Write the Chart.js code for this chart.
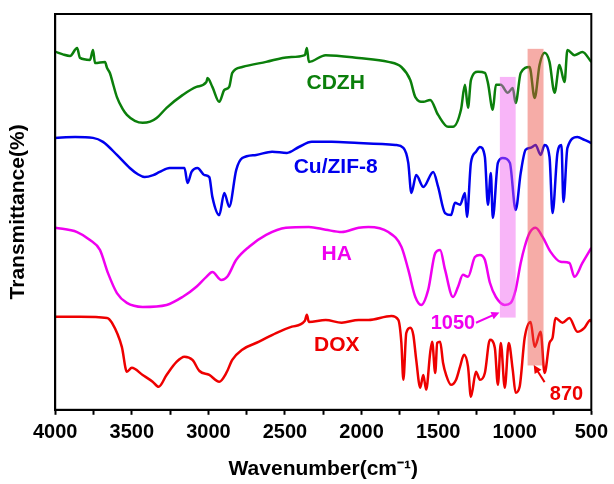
<!DOCTYPE html>
<html>
<head>
<meta charset="utf-8">
<script src="https://cdn.jsdelivr.net/npm/chart.js@4.4.1/dist/chart.umd.min.js"></script>
<style>
  html, body { margin: 0; padding: 0; background: #fff; }
  #wrap { width: 614px; height: 484px; position: relative; }
</style>
</head>
<body>
<div id="wrap"><canvas id="grafico"></canvas></div>
<script>
// spettri FTIR: [numero d'onda, trasmittanza (u.a.)]
const cdzh = [[4000,90.5],[3950,89.8],[3903,89.4],[3857,91.4],[3838,88.9],[3773,88.4],[3753,90.9],[3740,87.6],[3675,87.9],[3662,86.4],
  [3643,85.1],[3620,82.0],[3597,79.0],[3560,76.0],[3532,74.5],[3480,73.0],[3429,72.5],[3380,72.8],[3338,73.7],[3273,76.3],[3169,79.5],[3078,81.6],[3013,82.8],[3006,83.8],
  [2974,81.6],[2929,77.8],[2896,80.8],[2864,81.6],[2844,85.1],[2779,86.6],[2623,87.9],[2474,89.1],[2370,89.6],[2357,91.4],
  [2344,87.9],[2234,89.6],[2019,88.9],[1825,87.9],[1740,86.6],[1682,83.3],[1649,79.0],[1597,77.8],[1552,78.3],[1500,74.5],
  [1435,71.5],[1403,71.5],[1351,75.8],[1325,82.1],[1305,76.3],[1286,83.3],[1240,85.4],[1195,85.1],[1175,82.6],[1143,75.8],
  [1123,82.1],[1091,82.1],[1045,80.1],[1013,81.3],[994,77.5],[961,85.1],[903,86.6],[870,78.8],[838,87.1],[805,90.2],
  [773,87.9],[740,80.1],[708,87.1],[675,82.8],[656,90.9],[610,89.6],[558,90.4],[500,87.9]];

const cuzif = [[4000,68.7],[3870,68.9],[3753,68.7],[3688,67.7],[3597,64.4],[3513,61.1],[3460,59.5],[3416,58.8],[3360,59.3],[3318,60.1],[3253,61.1],
  [3156,61.1],[3136,57.3],[3110,60.1],[3071,61.1],[3026,59.3],[2994,58.8],[2974,53.8],[2929,49.2],[2896,54.8],[2864,51.3],
  [2818,60.6],[2779,63.6],[2688,64.4],[2584,65.2],[2487,64.9],[2409,66.4],[2325,67.7],[2195,67.7],[2019,67.4],[1779,66.9],
  [1727,66.2],[1695,62.4],[1675,54.8],[1643,59.3],[1597,56.3],[1532,60.1],[1500,56.3],[1455,49.7],[1416,49.2],[1390,52.3],
  [1357,51.8],[1325,54.8],[1312,48.7],[1286,62.4],[1253,65.2],[1227,66.4],[1195,63.9],[1175,51.8],[1156,59.8],[1143,48.5],
  [1110,62.4],[1078,63.6],[1032,62.4],[994,50.5],[961,59.8],[929,65.7],[896,66.2],[864,66.9],[831,64.4],[805,66.9],
  [773,63.9],[753,49.7],[721,64.9],[695,66.9],[682,52.5],[656,66.2],[591,68.9],[545,68.2],[500,67.4]];

const ha = [[4000,46.0],[3857,44.9],[3773,42.9],[3708,40.4],[3656,34.6],[3597,29.5],[3532,27.0],[3429,26.0],[3273,26.5],
  [3169,28.5],[3078,31.1],[3013,33.6],[2974,34.8],[2916,32.8],[2877,33.6],[2818,37.9],[2734,41.2],[2623,44.2],[2494,46.0],
  [2344,46.2],[2234,45.5],[2130,44.9],[2019,46.0],[1955,46.2],[1825,44.9],[1740,41.2],[1695,35.4],[1649,28.5],[1610,26.5],
  [1565,30.3],[1519,39.6],[1487,40.4],[1455,35.4],[1403,28.5],[1370,31.1],[1338,34.1],[1305,33.6],[1260,38.6],[1227,39.1],
  [1195,37.9],[1162,32.1],[1123,28.5],[1065,26.5],[1026,27.0],[994,30.3],[961,37.1],[935,41.2],[903,44.7],[864,46.0],
  [818,43.7],[766,39.9],[701,37.4],[643,37.1],[610,33.6],[558,37.1],[500,40.9]];

const dox = [[4000,23.5],[3838,23.5],[3662,23.2],[3630,22.0],[3565,15.9],[3532,9.6],[3500,10.6],[3429,8.8],[3364,7.1],
  [3325,5.8],[3273,8.8],[3208,12.1],[3156,13.4],[3104,12.6],[3058,9.8],[2994,8.8],[2929,7.1],[2883,9.3],[2844,12.6],
  [2779,15.2],[2669,17.2],[2558,19.4],[2455,21.0],[2370,22.5],[2357,24.0],[2344,22.2],[2234,22.7],[2130,22.0],[2019,22.7],
  [1955,22.7],[1805,23.7],[1760,22.7],[1740,16.9],[1727,7.6],[1708,19.4],[1682,20.7],[1662,18.9],[1643,12.6],[1617,5.6],
  [1597,8.8],[1578,5.1],[1552,14.4],[1539,17.2],[1519,9.3],[1506,16.9],[1487,17.2],[1468,11.9],[1448,8.8],[1416,6.3],
  [1383,7.6],[1357,10.9],[1331,13.9],[1305,10.9],[1286,3.3],[1253,9.6],[1227,7.6],[1195,9.3],[1162,17.7],[1130,15.7],
  [1110,6.3],[1091,16.9],[1065,5.6],[1039,16.9],[1013,10.1],[994,4.3],[968,5.8],[935,18.2],[896,22.2],[870,15.9],
  [831,19.7],[805,9.3],[773,16.9],[753,18.2],[734,23.2],[688,22.0],[643,23.2],[591,19.7],[545,20.7],[506,22.7],[500,22.2]];

const seriesNames = ["CDZH", "Cu/ZIF-8", "HA", "DOX"];
const seriesColors = ["#0b7f0b", "#0000ee", "#f000f0", "#ee0000"];
const xTicks = [4000, 3500, 3000, 2500, 2000, 1500, 1000, 500];

// bande evidenziate
const bands = [
  {x: [1097, 994], y: [23.3, 84.1], color: "rgba(240, 90, 240, 0.45)"},
  {x: [916, 812], y: [11.2, 91.2], color: "rgba(236, 70, 60, 0.45)"}
];

const FONT = "'Liberation Sans', Arial, sans-serif";

// etichette sul grafico (coordinate in unita' dei dati)
const labels = [
  {text: "CDZH", x: 2169, y: 82.6, color: seriesColors[0]},
  {text: "Cu/ZIF-8", x: 2169, y: 61.2, color: seriesColors[1]},
  {text: "HA", x: 2162, y: 39.4, color: seriesColors[2]},
  {text: "DOX", x: 2162, y: 16.2, color: seriesColors[3]},
  {text: "1050", x: 1403, y: 21.7, color: seriesColors[2], size: 20},
  {text: "870", x: 662, y: 3.8, color: seriesColors[3], size: 20}
];
const arrows = [
  {from: [1253, 22.0], to: [1100, 24.6], color: seriesColors[2]},
  {from: [805, 7.0], to: [876, 11.3], color: seriesColors[3]}
];

function toXY(arr) {
  return arr.map(p => ({x: p[0], y: p[1]}));
}

const datasets = [cdzh, cuzif, ha, dox].map((s, i) => ({
  label: seriesNames[i],
  data: toXY(s),
  borderColor: seriesColors[i],
  borderWidth: 2.5,
  pointRadius: 0,
  cubicInterpolationMode: "monotone",
  fill: false
}));

const bandsPlugin = {
  id: "bande",
  afterDatasetsDraw(chart) {
    const ctx = chart.ctx, xs = chart.scales.x, ys = chart.scales.y;
    ctx.save();
    bands.forEach(b => {
      const x1 = xs.getPixelForValue(b.x[0]), x2 = xs.getPixelForValue(b.x[1]);
      const y1 = ys.getPixelForValue(b.y[1]), y2 = ys.getPixelForValue(b.y[0]);
      ctx.fillStyle = b.color;
      ctx.fillRect(x1, y1, x2 - x1, y2 - y1);
    });
    ctx.restore();
  }
};

const annotPlugin = {
  id: "annotazioni",
  afterDraw(chart) {
    const ctx = chart.ctx, xs = chart.scales.x, ys = chart.scales.y;
    const a = chart.chartArea;
    ctx.save();
    // cornice
    ctx.strokeStyle = "#000";
    ctx.lineWidth = 2;
    ctx.strokeRect(a.left, a.top, a.right - a.left, a.bottom - a.top);

    ctx.textAlign = "center";
    ctx.textBaseline = "middle";
    labels.forEach(l => {
      ctx.font = "bold " + (l.size || 21) + "px " + FONT;
      ctx.fillStyle = l.color;
      ctx.fillText(l.text, xs.getPixelForValue(l.x), ys.getPixelForValue(l.y));
    });

    arrows.forEach(ar => {
      const x1 = xs.getPixelForValue(ar.from[0]), y1 = ys.getPixelForValue(ar.from[1]);
      const x2 = xs.getPixelForValue(ar.to[0]), y2 = ys.getPixelForValue(ar.to[1]);
      const ang = Math.atan2(y2 - y1, x2 - x1);
      ctx.strokeStyle = ar.color;
      ctx.fillStyle = ar.color;
      ctx.lineWidth = 2;
      ctx.beginPath();
      ctx.moveTo(x1, y1);
      ctx.lineTo(x2 - 5 * Math.cos(ang), y2 - 5 * Math.sin(ang));
      ctx.stroke();
      ctx.beginPath();
      ctx.moveTo(x2, y2);
      ctx.lineTo(x2 - 8 * Math.cos(ang) + 4 * Math.sin(ang), y2 - 8 * Math.sin(ang) - 4 * Math.cos(ang));
      ctx.lineTo(x2 - 8 * Math.cos(ang) - 4 * Math.sin(ang), y2 - 8 * Math.sin(ang) + 4 * Math.cos(ang));
      ctx.closePath();
      ctx.fill();
    });
    ctx.restore();
  }
};

const chart = new Chart(document.getElementById("grafico").getContext("2d"), {
  type: "line",
  data: {datasets: datasets},
  options: {
    responsive: true,
    maintainAspectRatio: false,
    animation: false,
    layout: {padding: {left: 6, right: 20, top: 14, bottom: 2}},
    plugins: {legend: {display: false}, tooltip: {enabled: false}},
    scales: {
      x: {
        type: "linear",
        reverse: true,
        min: 500,
        max: 4000,
        afterBuildTicks(scale) {
          // tacche ogni 250, etichette solo sui valori principali
          const t = [];
          for (let v = 4000; v >= 500; v -= 250) t.push({value: v});
          scale.ticks = t;
        },
        ticks: {
          color: "#000",
          font: {family: FONT, size: 20, weight: "bold"},
          padding: 6,
          maxRotation: 0,
          autoSkip: false,
          callback: v => xTicks.includes(v) ? String(v) : ""
        },
        grid: {display: true, drawOnChartArea: false, drawTicks: true, tickLength: 5, tickWidth: 2, tickColor: "#000"},
        border: {display: true, color: "#000", width: 2},
        title: {
          display: true,
          text: "Wavenumber(cm\u207B\u00B9)",
          color: "#000",
          font: {family: FONT, size: 21, weight: "bold"},
          padding: {top: 6, bottom: 0}
        }
      },
      y: {
        min: 0,
        max: 100,
        ticks: {display: false},
        grid: {display: false, drawTicks: false},
        border: {display: true, color: "#000", width: 2},
        title: {
          display: true,
          text: "Transmittance(%)",
          color: "#000",
          font: {family: FONT, size: 21, weight: "bold"},
          padding: {top: 0, bottom: 24}
        }
      }
    }
  },
  plugins: [bandsPlugin, annotPlugin]
});
</script>
</body>
</html>
